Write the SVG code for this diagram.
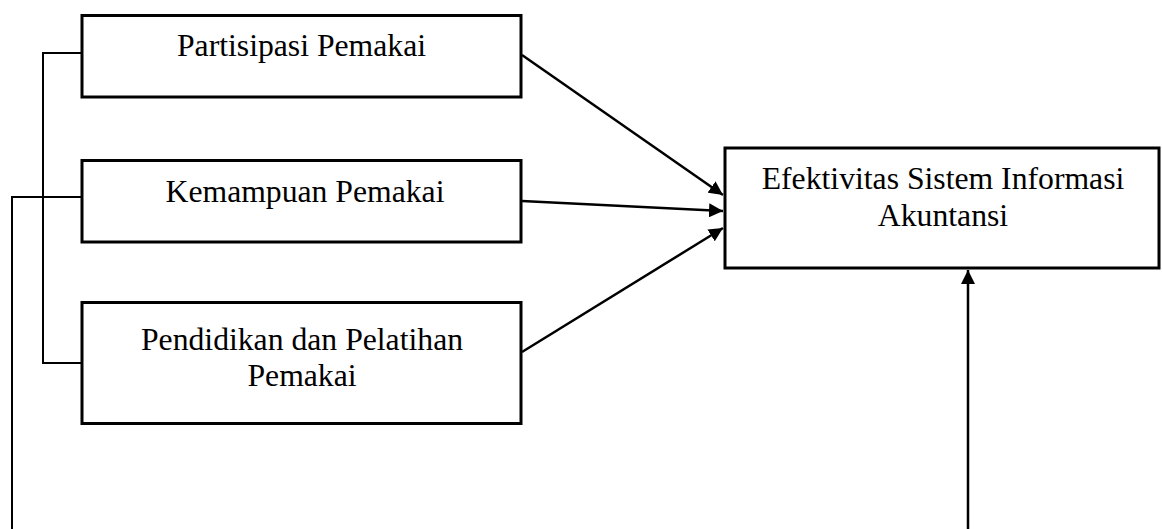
<svg xmlns="http://www.w3.org/2000/svg" width="1162" height="529" viewBox="0 0 1162 529">
<style>
.box{fill:#fff;stroke:#000;stroke-width:3}
.t{font-family:"Liberation Serif","Times New Roman",serif;font-size:31.7px;fill:#000;text-anchor:middle}
.ln{fill:none;stroke:#000;stroke-width:2}
.ar{fill:none;stroke:#000;stroke-width:2.5}
</style>
<defs>
<marker id="ah" viewBox="0 0 14 14" refX="14" refY="7" markerWidth="14" markerHeight="14" markerUnits="userSpaceOnUse" orient="auto">
<path d="M0,0 L14,7 L0,14 z" fill="#000"/>
</marker>
</defs>
<rect width="1162" height="529" fill="#fff"/>
<g id="connectors">
<polyline class="ln" points="82,53 43,53 43,363 82,363"/>
<polyline class="ln" points="82,197 12,197 12,529"/>
<line class="ar" x1="522" y1="55" x2="723" y2="195" marker-end="url(#ah)"/>
<line class="ar" x1="522" y1="201" x2="723" y2="211" marker-end="url(#ah)"/>
<line class="ar" x1="522" y1="352" x2="723" y2="228" marker-end="url(#ah)"/>
<line class="ar" x1="968" y1="529" x2="968" y2="270" marker-end="url(#ah)"/>
</g>
<g id="n1">
<rect class="box" x="82" y="15.5" width="439" height="81.5"/>
<text class="t" x="301.5" y="56">Partisipasi Pemakai</text>
</g>
<g id="n2">
<rect class="box" x="82" y="160.5" width="439" height="81.5"/>
<text class="t" x="305" y="201.5">Kemampuan Pemakai</text>
</g>
<g id="n3">
<rect class="box" x="82" y="302.5" width="439" height="121"/>
<text class="t" x="302" y="350">Pendidikan dan Pelatihan</text>
<text class="t" x="302" y="386">Pemakai</text>
</g>
<g id="n4">
<rect class="box" x="725" y="148" width="434" height="120"/>
<text class="t" x="943" y="188.5">Efektivitas Sistem Informasi</text>
<text class="t" x="943" y="225.5">Akuntansi</text>
</g>
</svg>
